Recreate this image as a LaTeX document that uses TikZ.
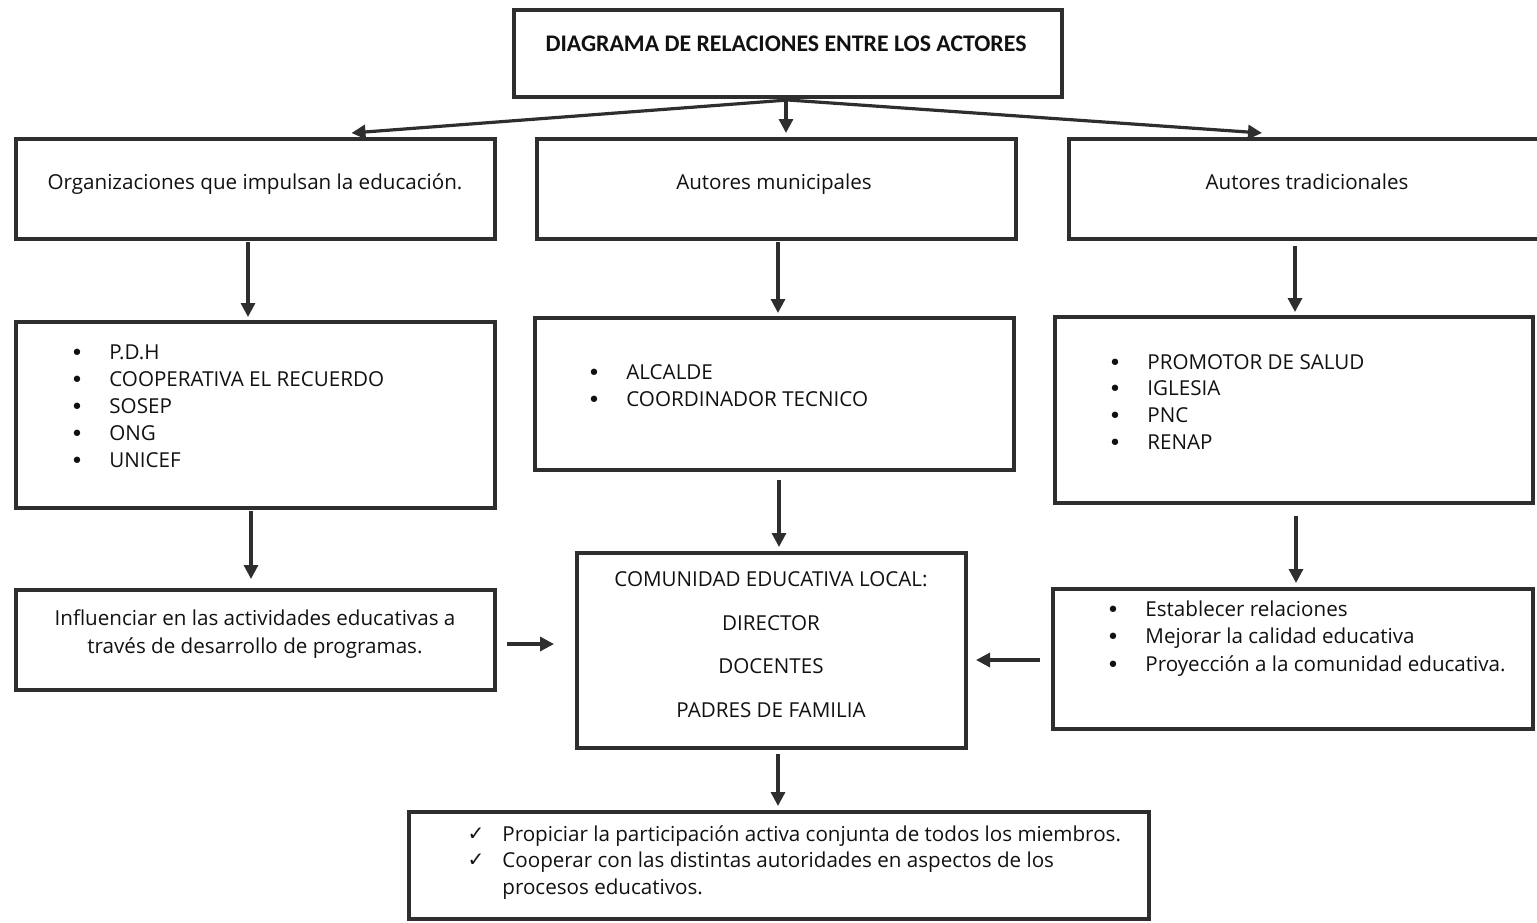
\documentclass[tikz,border=0pt]{standalone}
\usepackage{fontspec}
\setmainfont{Open Sans}
\newfontfamily\titlefont{Carlito}
\newfontfamily\symfont{DejaVu Sans}
\usetikzlibrary{arrows.meta,calc,fit}
\definecolor{ln}{HTML}{2E2E2E}
\definecolor{tx}{HTML}{111111}
\tikzset{
  box/.style={draw=ln, line width=2pt, inner sep=0pt, rectangle},
  arr/.style={draw=ln, line width=1.6pt, -{Triangle[length=7pt,width=7pt]}},
  lbl/.style={inner sep=0pt, text=tx, font=\fontsize{10.3}{12}\selectfont},
  ttl/.style={inner sep=0pt, text=tx, font=\titlefont\bfseries\fontsize{11.9}{14}\selectfont},
  bul/.style={inner sep=0pt, text=tx, anchor=base, font=\symfont\fontsize{11}{12}\selectfont},
  chk/.style={inner sep=0pt, text=tx, anchor=base, font=\symfont\fontsize{10}{12}\selectfont},
}
\begin{document}
\begin{tikzpicture}[x=0.5pt,y=-0.5pt]
\useasboundingbox (0,0) rectangle (1537,922);
% boxes
\node[box, fit={(514,10)(1062,97)}] (T) {};
\node[box, fit={(16,139)(495,239)}] (A1) {};
\node[box, fit={(537,139)(1016,239)}] (B1) {};
\node[box, fit={(1069,139)(1545,239)}] (C1) {};
\node[box, fit={(16,322)(495,508)}] (A2) {};
\node[box, fit={(535,318)(1014,470)}] (B2) {};
\node[box, fit={(1055,317)(1533,503)}] (C2) {};
\node[box, fit={(16,590)(495,690)}] (A3) {};
\node[box, fit={(577,553)(966,748)}] (CE) {};
\node[box, fit={(1053,589)(1533,729)}] (C3) {};
\node[box, fit={(409,812)(1149,919)}] (BT) {};
% texts
\node[ttl, anchor=base] (tT) at (786,51) {DIAGRAMA DE RELACIONES ENTRE LOS ACTORES};
\node[lbl, anchor=base] (tA1) at (255,189) {Organizaciones que impulsan la educación.};
\node[lbl, anchor=base] (tB1) at (774,189) {Autores municipales};
\node[lbl, anchor=base] (tC1) at (1307,189) {Autores tradicionales};
% A2 list
\foreach \t [count=\i] in {P.D.H, COOPERATIVA EL RECUERDO, SOSEP, ONG, UNICEF}{
  \node[bul] (a2b\i) at (77,{360+(\i-1)*27.2}) {•};
  \node[lbl, anchor=base west] (a2t\i) at (109,{359+(\i-1)*27.2}) {\t};
}
% B2 list
\foreach \t [count=\i] in {ALCALDE, COORDINADOR TECNICO}{
  \node[bul] (b2b\i) at (594,{380+(\i-1)*27}) {•};
  \node[lbl, anchor=base west] (b2t\i) at (626,{379+(\i-1)*27}) {\t};
}
% C2 list
\foreach \t [count=\i] in {PROMOTOR DE SALUD, IGLESIA, PNC, RENAP}{
  \node[bul] (c2b\i) at (1115,{370+(\i-1)*26.7}) {•};
  \node[lbl, anchor=base west] (c2t\i) at (1147,{369+(\i-1)*26.7}) {\t};
}
% A3
\node[lbl, anchor=base] (a3t1) at (255,625) {Influenciar en las actividades educativas a};
\node[lbl, anchor=base] (a3t2) at (255,653) {través de desarrollo de programas.};
% CE
\node[lbl, anchor=base] (ce1) at (771,586) {COMUNIDAD EDUCATIVA LOCAL:};
\node[lbl, anchor=base] (ce2) at (771,630) {DIRECTOR};
\node[lbl, anchor=base] (ce3) at (771,673) {DOCENTES};
\node[lbl, anchor=base] (ce4) at (771,717) {PADRES DE FAMILIA};
% C3 list
\foreach \t [count=\i] in {Establecer relaciones, Mejorar la calidad educativa, Proyección a la comunidad educativa.}{
  \node[bul] (c3b\i) at (1113,{617+(\i-1)*27.5}) {•};
  \node[lbl, anchor=base west] (c3t\i) at (1145,{616+(\i-1)*27.5}) {\t};
}
% bottom
\node[chk] (k1) at (476,840) {✓};
\node[chk] (k2) at (476,866) {✓};
\node[lbl, anchor=base west] (bt1) at (502,841) {Propiciar la participación activa conjunta de todos los miembros.};
\node[lbl, anchor=base west] (bt2) at (502,867) {Cooperar con las distintas autoridades en aspectos de los};
\node[lbl, anchor=base west] (bt3) at (502,894) {procesos educativos.};
% arrows
\coordinate (Ts) at ($(T.south)+(0,1)$);
\draw[arr] (Ts) -- ($(A1.north)+(96,-4)$);
\draw[arr] (Ts) -- ($(C1.north)+(-45,-4)$);
\draw[arr] ($(T.south)+(-2,0)$) -- ($(B1.north)+(9.5,-4)$);
\draw[arr] ($(A1.south)+(-7.5,1)$) -- ($(A2.north)+(-7.5,-3)$);
\draw[arr] ($(B1.south)+(1.5,1)$) -- ($(B2.north)+(3.5,-3)$);
\draw[arr] ($(C1.south)+(-12,5)$) -- ($(C2.north)+(1,-3)$);
\draw[arr] ($(A2.south)+(-4.5,1)$) -- ($(A3.north)+(-4.5,-9)$);
\draw[arr] ($(B2.south)+(4.5,8)$) -- ($(CE.north)+(7.5,-4)$);
\draw[arr] ($(C2.south)+(2,11)$) -- ($(C3.north)+(3,-4)$);
\draw[arr] ($(A3.east)+(10,4)$) -- ($(CE.west)+(-21,-6.5)$);
\draw[arr] ($(C3.west)+(-11,1)$) -- ($(CE.east)+(8,9.5)$);
\draw[arr] ($(CE.south)+(6.5,4)$) -- ($(BT.north)+(-1,-4)$);
\end{tikzpicture}
\end{document}
